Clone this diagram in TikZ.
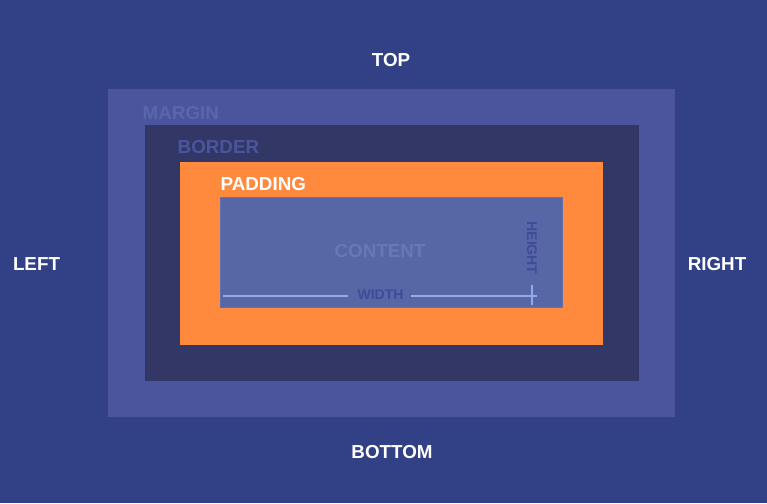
\documentclass[tikz,border=0pt]{standalone}
\usepackage{fontspec}
\setmainfont{Liberation Sans}
\usetikzlibrary{calc,positioning}
\definecolor{hintergrund}{HTML}{324085}
\definecolor{margincol}{HTML}{4A559D}
\definecolor{margintext}{HTML}{5A66AA}
\definecolor{bordercol}{HTML}{323766}
\definecolor{bordertext}{HTML}{4A559D}
\definecolor{paddingcol}{HTML}{FF8A3D}
\definecolor{contentcol}{HTML}{5766A5}
\definecolor{contentrand}{HTML}{6271B0}
\definecolor{contenttext}{HTML}{6877B5}
\definecolor{masstext}{HTML}{3E4B98}
\definecolor{masslinie}{HTML}{93AAEA}
\begin{document}
\begin{tikzpicture}[x=1pt,y=-1pt,
    aussen/.style = {font=\bfseries\fontsize{18.8}{21}\selectfont, text=white, inner sep=0pt},
    innen/.style = {font=\bfseries\fontsize{18.8}{21}\selectfont, inner sep=0pt, anchor=west},
    mass/.style = {font=\bfseries\fontsize{14}{16}\selectfont, text=masstext, inner sep=0pt},
    linie/.style = {draw=masslinie, line width=1.3pt}]
    % Hintergrund und Bildgroesse
    \fill[hintergrund] (0,0) rectangle (767,503);
    \useasboundingbox (0,0) rectangle (767,503);

    % Verschachtelte Boxen (Margin, Border, Padding, Content)
    \fill[margincol] (108,89) rectangle (675,417);
    \fill[bordercol] (145,125) rectangle (639,381);
    \fill[paddingcol] (180,162) rectangle (603,345);
    \fill[contentcol, draw=contentrand, line width=1pt] (220.5,197.5) rectangle (562.5,307.5);

    % Beschriftungen aussen
    \node[aussen] (Top) at (391,60.5) {TOP};
    \node[aussen] (Left) at (36.5,264) {LEFT};
    \node[aussen] (Right) at (717,264.5) {RIGHT};
    \node[aussen] (Bottom) at (392,452) {BOTTOM};

    % Beschriftungen der Boxen
    \node[innen, text=margintext] (M) at (142.5,113) {MARGIN};
    \node[innen, text=bordertext] (B) at (177.5,147.5) {BORDER};
    \node[innen, text=white] (P) at (220.5,184) {PADDING};
    \node[font=\bfseries\fontsize{18.8}{21}\selectfont, inner sep=0pt, text=contenttext] (C) at (380,251) {CONTENT};

    % Breite und Hoehe
    \node[mass] (W) at (380.5,294.5) {WIDTH};
    \node[mass, rotate=-90] (H) at (532,248) {HEIGHT};
    \coordinate (W1) at (223,296);
    \coordinate (W2) at (348,296);
    \coordinate (W3) at (411,296);
    \coordinate (W4) at (537,296);
    \coordinate (H1) at (532,285);
    \coordinate (H2) at (532,305);
    \draw[linie] (W1) -- (W2);
    \draw[linie] (W3) -- (W4);
    \draw[linie] (H1) -- (H2);
\end{tikzpicture}
\end{document}
